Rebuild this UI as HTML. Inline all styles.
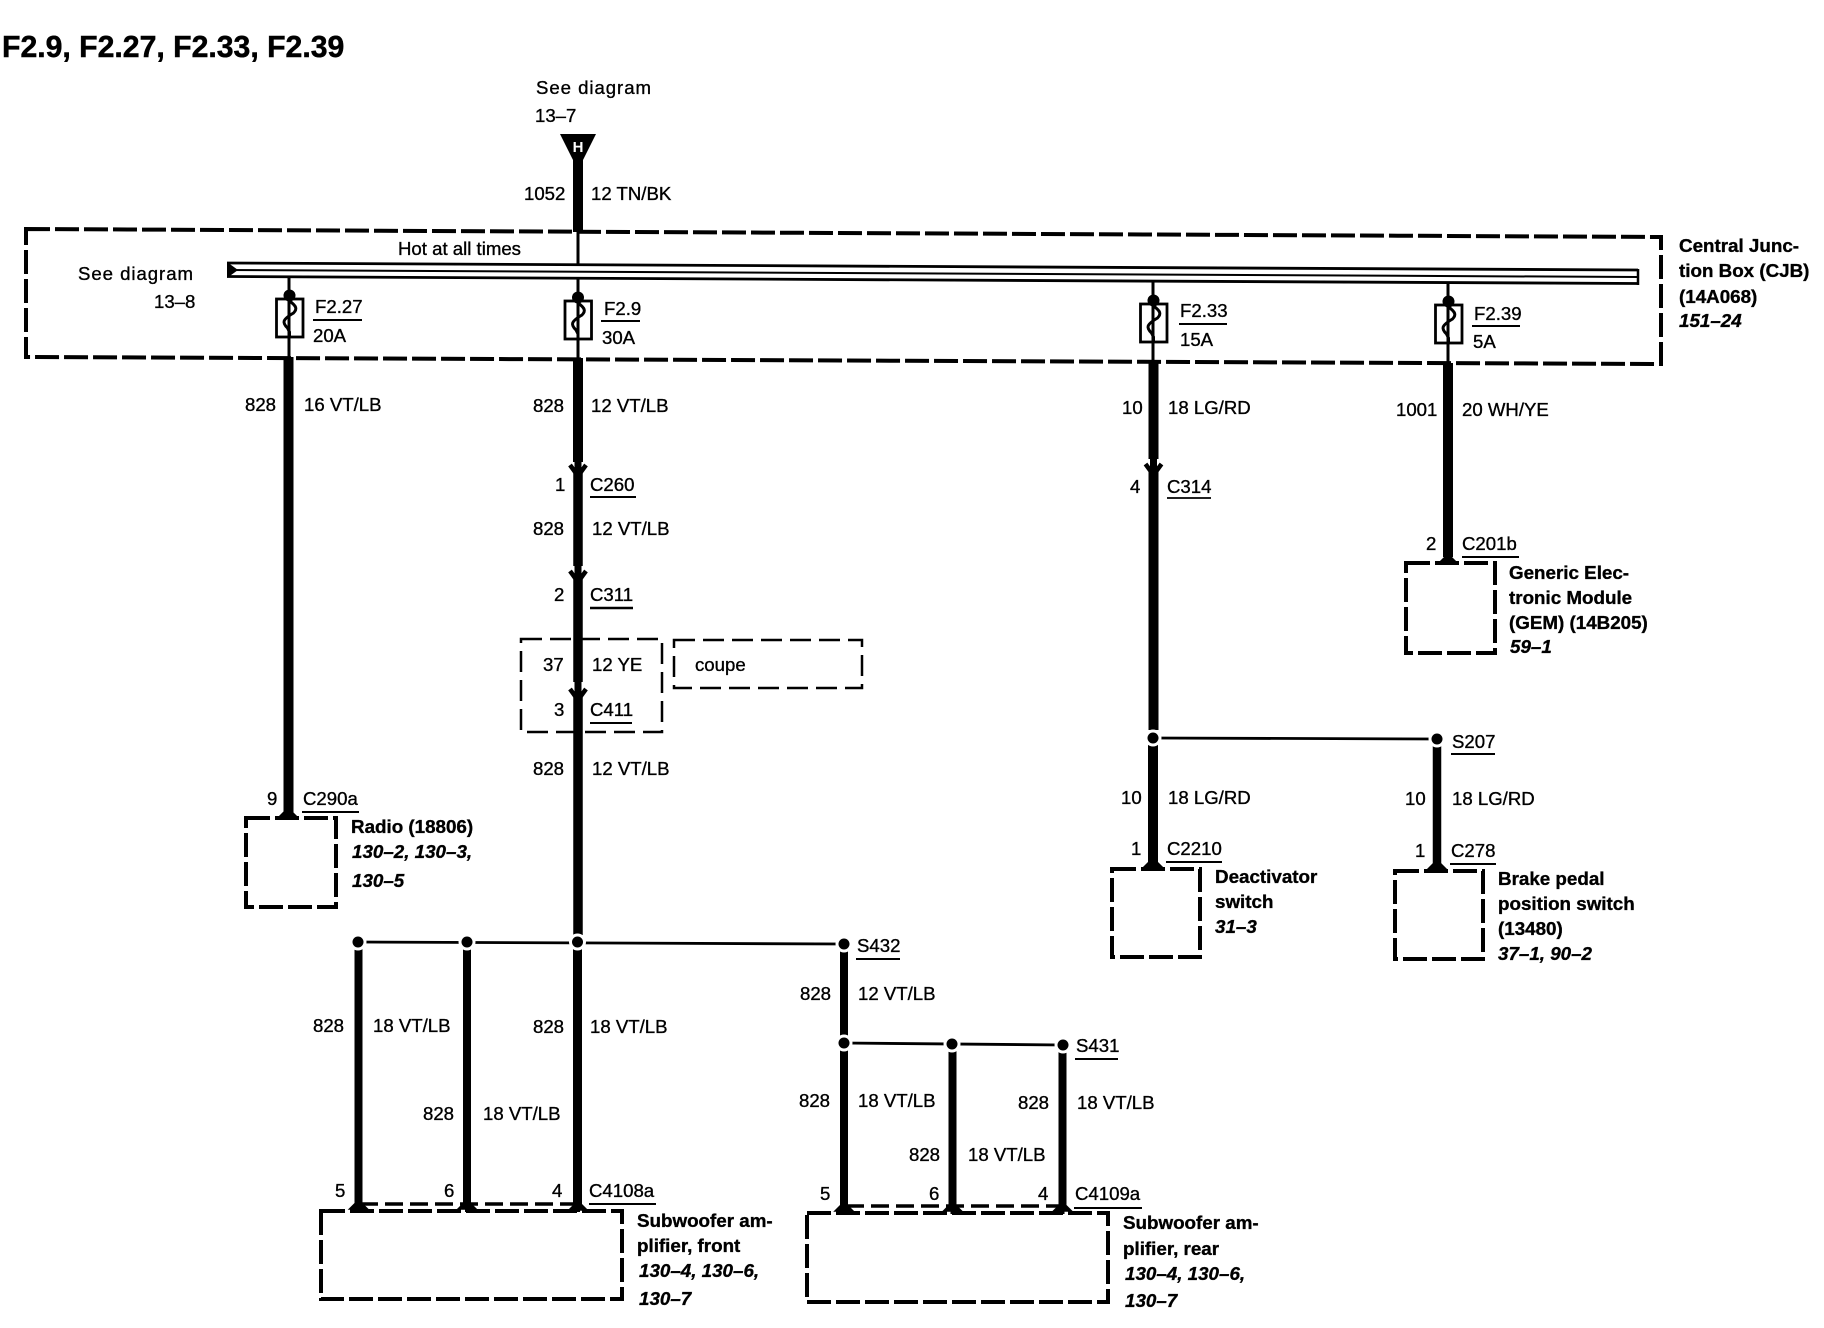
<!DOCTYPE html>
<html lang="en">
<head>
<meta charset="utf-8">
<title>F2.9, F2.27, F2.33, F2.39</title>
<style>
html,body{margin:0;padding:0;background:#fff}
svg{display:block}
text{font-family:"Liberation Sans",sans-serif;font-size:18.6px;fill:#000;stroke:#000;stroke-width:.35}
.t{font-size:30.2px;font-weight:bold;stroke-width:.5}
.b{font-weight:bold;font-size:18.8px}
.i{font-weight:bold;font-style:italic;font-size:18.8px}
.w{stroke:#000;fill:none}
.d{stroke:#000;fill:none;stroke-width:4;stroke-dasharray:24 5}
.n{stroke:#000;fill:none;stroke-width:2.5;stroke-dasharray:21 8}
</style>
</head>
<body>
<svg xmlns="http://www.w3.org/2000/svg" width="1824" height="1328" viewBox="0 0 1824 1328">
<defs>
<g id="fuse">
<path d="M0 -6V2C7 7 8 10 4 14C-8 21 -7 24 -2 29L0 33V38" fill="none" stroke="#000" stroke-width="3"/>
<rect x="-13" y="0" width="26.5" height="38" fill="none" stroke="#000" stroke-width="2.8"/>
<circle cx="0" cy="-3.5" r="6"/>
</g>
<path id="dn" d="M-8 -8L0 3L8 -8" fill="none" stroke="#000" stroke-width="4.5"/>
<path id="up" d="M-9 5L0 -4L9 5Z" fill="#000" stroke="#000" stroke-width="1.5"/>
<g id="dot"><circle r="8.5" fill="#fff"/><circle r="5.5" fill="#000"/></g>
</defs>

<text class="t" x="2" y="57">F2.9, F2.27, F2.33, F2.39</text>
<text x="536" y="94" textLength="115">See diagram</text>
<text x="535" y="122">13–7</text>

<!-- central junction box -->
<path class="d" d="M26 229L1661 237V364L26 357Z"/>
<!-- bus -->
<path class="w" stroke-width="2.8" d="M227 263L1638 270M227 276.5L1638 283.5"/>
<path class="w" stroke-width="2" d="M227 270L1638 277"/>
<path class="w" stroke-width="2.5" d="M1638 269V285"/>
<path d="M227 262L238 270L227 278Z"/>

<text x="398" y="255">Hot at all times</text>
<text x="78" y="280" textLength="115">See diagram</text>
<text x="154" y="308">13–8</text>

<!-- top feed -->
<path d="M560 134H596L583 160V232H573V160Z"/>
<text x="578" y="152" text-anchor="middle" style="font-size:15px;font-weight:bold;fill:#fff;stroke:none">H</text>
<path class="w" stroke-width="3" d="M578 232V264"/>
<text x="524" y="200">1052</text>
<text x="591" y="200">12 TN/BK</text>

<!-- fuses -->
<path class="w" stroke-width="3" d="M289 277V357M578 278V358M1153 281V362M1448 283V363"/>
<use href="#fuse" x="289.5" y="299"/>
<use href="#fuse" x="578" y="301"/>
<use href="#fuse" x="1153.5" y="304"/>
<use href="#fuse" x="1448.5" y="305"/>
<text x="315" y="313">F2.27</text><path class="w" stroke-width="2" d="M313 320H362"/><text x="313" y="342">20A</text>
<text x="604" y="315">F2.9</text><path class="w" stroke-width="2" d="M601 321H640"/><text x="602" y="344">30A</text>
<text x="1180" y="317">F2.33</text><path class="w" stroke-width="2" d="M1179 324H1227"/><text x="1180" y="346">15A</text>
<text x="1474" y="320">F2.39</text><path class="w" stroke-width="2" d="M1472 326H1520"/><text x="1473" y="348">5A</text>

<text class="b" x="1679" y="252">Central Junc-</text>
<text class="b" x="1679" y="277">tion Box (CJB)</text>
<text class="b" x="1679" y="303">(14A068)</text>
<text class="i" x="1679" y="327">151–24</text>

<!-- F2.27 wire -->
<path class="w" stroke-width="10" d="M288.5 357V814"/>
<text x="245" y="411">828</text><text x="304" y="411">16 VT/LB</text>
<text x="267" y="805">9</text>
<text x="303" y="805">C290a</text><path class="w" stroke-width="2" d="M302 812H359"/>
<use href="#up" x="288" y="812"/>
<path class="d" d="M246 818H336V907H246Z"/>
<text class="b" x="351" y="833">Radio (18806)</text>
<text class="i" x="352" y="858">130–2, 130–3,</text>
<text class="i" x="352" y="887">130–5</text>

<!-- F2.9 wire -->
<path class="w" stroke-width="10" d="M578 358V462"/>
<path class="w" stroke-width="7" d="M578 462V472"/>
<path class="w" stroke-width="9.5" d="M578 472V566"/>
<path class="w" stroke-width="7" d="M578 566V577"/>
<path class="w" stroke-width="9.5" d="M578 577V682"/>
<path class="w" stroke-width="7" d="M578 682V693"/>
<path class="w" stroke-width="9.5" d="M578 693V935"/>
<use href="#dn" x="578" y="473"/>
<use href="#dn" x="578" y="579"/>
<use href="#dn" x="578" y="697"/>
<text x="533" y="412">828</text><text x="591" y="412">12 VT/LB</text>
<text x="555" y="491">1</text><text x="590" y="491">C260</text><path class="w" stroke-width="2" d="M590 497H636"/>
<text x="533" y="535">828</text><text x="592" y="535">12 VT/LB</text>
<text x="554" y="601">2</text><text x="590" y="601">C311</text><path class="w" stroke-width="2.5" d="M590 608H633"/>
<path class="n" d="M521 639H662V732H521Z"/>
<path class="n" d="M674 640H862V688H674Z"/>
<text x="543" y="671">37</text><text x="592" y="671">12 YE</text>
<text x="695" y="671">coupe</text>
<text x="554" y="716">3</text><text x="590" y="716">C411</text><path class="w" stroke-width="2" d="M590 723H632"/>
<text x="533" y="775">828</text><text x="592" y="775">12 VT/LB</text>

<!-- S432 row -->
<path class="w" stroke-width="2.8" d="M358 942L844 944"/>
<path class="w" stroke-width="8" d="M358.5 942V1205M467 942V1205"/>
<path class="w" stroke-width="9" d="M577.5 943V1205"/>
<path class="w" stroke-width="8" d="M844 944V1208"/>
<use href="#dot" x="358" y="942"/><use href="#dot" x="467" y="942"/><use href="#dot" x="577.5" y="942"/><use href="#dot" x="844" y="944"/>
<text x="857" y="952">S432</text><path class="w" stroke-width="2" d="M856 959H900"/>
<text x="313" y="1032">828</text><text x="373" y="1032">18 VT/LB</text>
<text x="423" y="1120">828</text><text x="483" y="1120">18 VT/LB</text>
<text x="533" y="1033">828</text><text x="590" y="1033">18 VT/LB</text>
<text x="800" y="1000">828</text><text x="858" y="1000">12 VT/LB</text>
<text x="335" y="1197">5</text><text x="444" y="1197">6</text><text x="552" y="1197">4</text>
<text x="589" y="1197">C4108a</text><path class="w" stroke-width="2" d="M589 1204H656"/>
<path class="w" stroke-width="3.5" stroke-dasharray="18 7" d="M360 1204H578"/>
<use href="#up" x="358.5" y="1204"/><use href="#up" x="467" y="1204"/><use href="#up" x="578" y="1205"/>
<path class="d" d="M321 1211H622V1299H321Z"/>
<path class="w" stroke-width="4" d="M358.5 1204V1212M467 1204V1212M578 1204V1212"/>
<text class="b" x="637" y="1227">Subwoofer am-</text>
<text class="b" x="637" y="1252">plifier, front</text>
<text class="i" x="639" y="1277">130–4, 130–6,</text>
<text class="i" x="639" y="1305">130–7</text>

<!-- S431 row -->
<path class="w" stroke-width="2.8" d="M843 1043L1063 1045"/>
<path class="w" stroke-width="8" d="M952.5 1044V1208M1062.5 1045V1208"/>
<use href="#dot" x="844" y="1043"/><use href="#dot" x="952" y="1044"/><use href="#dot" x="1063" y="1045"/>
<text x="1076" y="1052">S431</text><path class="w" stroke-width="2" d="M1075 1059H1118"/>
<text x="799" y="1107">828</text><text x="858" y="1107">18 VT/LB</text>
<text x="909" y="1161">828</text><text x="968" y="1161">18 VT/LB</text>
<text x="1018" y="1109">828</text><text x="1077" y="1109">18 VT/LB</text>
<text x="820" y="1200">5</text><text x="929" y="1200">6</text><text x="1038" y="1200">4</text>
<text x="1075" y="1200">C4109a</text><path class="w" stroke-width="2" d="M1074 1208H1142"/>
<path class="w" stroke-width="3.5" stroke-dasharray="18 7" d="M846 1206H1062"/>
<use href="#up" x="844" y="1206"/><use href="#up" x="952.5" y="1206"/><use href="#up" x="1062.5" y="1206"/>
<path class="d" d="M807 1213H1108V1302H807Z"/>
<path class="w" stroke-width="4" d="M844 1206V1214M952.5 1206V1214M1062.5 1206V1214"/>
<text class="b" x="1123" y="1229">Subwoofer am-</text>
<text class="b" x="1123" y="1255">plifier, rear</text>
<text class="i" x="1125" y="1280">130–4, 130–6,</text>
<text class="i" x="1125" y="1307">130–7</text>

<!-- F2.33 wire -->
<path class="w" stroke-width="10" d="M1153.5 362V459"/>
<path class="w" stroke-width="7" d="M1153.5 459V468"/>
<path class="w" stroke-width="10" d="M1153.5 468V730"/>
<use href="#dn" x="1153.5" y="472"/>
<text x="1122" y="414">10</text><text x="1168" y="414">18 LG/RD</text>
<text x="1130" y="493">4</text><text x="1167" y="493">C314</text><path class="w" stroke-width="1.8" d="M1167 498H1211"/>

<!-- F2.39 wire -->
<path class="w" stroke-width="10" d="M1448 363V557"/>
<text x="1396" y="416">1001</text><text x="1462" y="416">20 WH/YE</text>
<text x="1426" y="550">2</text><text x="1462" y="550">C201b</text><path class="w" stroke-width="2" d="M1462 557H1519"/>
<use href="#up" x="1448" y="558"/>
<path class="d" d="M1406 563H1495V653H1406Z"/>
<text class="b" x="1509" y="579">Generic Elec-</text>
<text class="b" x="1509" y="604">tronic Module</text>
<text class="b" x="1509" y="629">(GEM) (14B205)</text>
<text class="i" x="1510" y="653">59–1</text>

<!-- S207 -->
<path class="w" stroke-width="2.8" d="M1153 738L1437 739"/>
<path class="w" stroke-width="10" d="M1153 738V862"/>
<path class="w" stroke-width="8.5" d="M1437 739V865"/>
<use href="#dot" x="1153" y="738"/><use href="#dot" x="1437" y="739"/>
<text x="1452" y="748">S207</text><path class="w" stroke-width="2" d="M1451 754H1495"/>
<text x="1121" y="804">10</text><text x="1168" y="804">18 LG/RD</text>
<text x="1405" y="805">10</text><text x="1452" y="805">18 LG/RD</text>
<text x="1131" y="855">1</text><text x="1167" y="855">C2210</text><path class="w" stroke-width="2" d="M1166 862H1222"/>
<text x="1415" y="857">1</text><text x="1451" y="857">C278</text><path class="w" stroke-width="2" d="M1450 864H1496"/>
<use href="#up" x="1153" y="862"/><use href="#up" x="1437" y="864"/>
<path class="d" d="M1112 869H1200V957H1112Z"/>
<path class="d" d="M1395 871H1483V959H1395Z"/>
<text class="b" x="1215" y="883">Deactivator</text>
<text class="b" x="1215" y="908">switch</text>
<text class="i" x="1215" y="933">31–3</text>
<text class="b" x="1498" y="885">Brake pedal</text>
<text class="b" x="1498" y="910">position switch</text>
<text class="b" x="1498" y="935">(13480)</text>
<text class="i" x="1498" y="960">37–1, 90–2</text>
</svg>
</body>
</html>
